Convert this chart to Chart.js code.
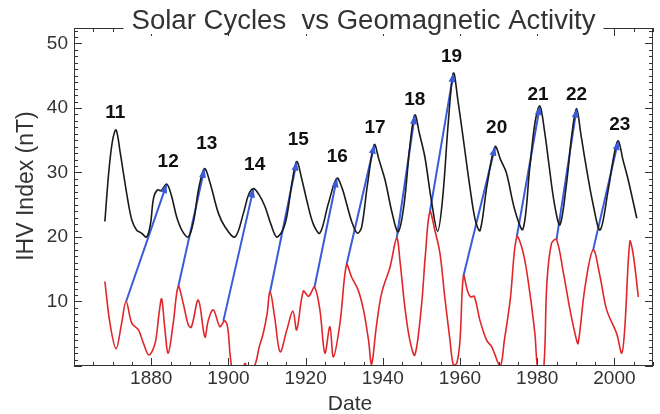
<!DOCTYPE html>
<html>
<head>
<meta charset="utf-8">
<script src="https://cdn.jsdelivr.net/npm/chart.js@4/dist/chart.umd.min.js"></script>
<style>
  html, body { margin: 0; padding: 0; background: #fff; }
  #wrap { width: 660px; height: 414px; }
</style>
</head>
<body>
<div id="wrap"><canvas id="myChart"></canvas></div>
<script>
// black curve: IHV index scaled sunspot cycles
const ihvYears = [1868.0, 1869.0, 1870.0, 1870.9, 1872.0, 1872.8, 1874.0, 1875.0, 1876.2, 1877.5, 1878.8, 1879.8, 1880.6, 1881.6, 1882.6, 1884.0, 1885.2, 1886.6, 1888.0, 1889.6, 1891.0, 1892.3, 1893.8, 1895.2, 1897.4, 1899.1, 1901.7, 1903.9, 1905.2, 1906.5, 1908.0, 1909.5, 1911.0, 1912.5, 1914.0, 1915.1, 1916.5, 1917.7, 1919.0, 1920.3, 1922.0, 1923.7, 1925.9, 1928.1, 1929.5, 1930.6, 1932.0, 1933.4, 1934.5, 1936.0, 1937.8, 1939.0, 1940.6, 1942.5, 1944.0, 1945.5, 1947.0, 1948.3, 1949.5, 1950.9, 1952.5, 1954.2, 1955.5, 1957.0, 1958.3, 1959.5, 1960.9, 1962.5, 1964.0, 1965.2, 1967.0, 1969.1, 1970.5, 1972.0, 1974.2, 1976.3, 1978.1, 1979.5, 1980.7, 1982.0, 1982.9, 1984.5, 1985.9, 1987.6, 1989.0, 1990.2, 1991.3, 1992.4, 1994.5, 1996.3, 1998.4, 2000.0, 2001.0, 2002.2, 2003.6, 2005.8];
const ihvValues = [22.4, 30.0, 35.0, 36.6, 33.0, 29.9, 25.5, 22.6, 21.1, 20.6, 20.0, 22.0, 26.0, 27.3, 27.2, 28.2, 26.5, 23.1, 21.0, 20.0, 22.5, 27.5, 30.6, 28.5, 23.7, 21.6, 20.0, 23.7, 26.5, 27.5, 26.5, 24.7, 22.0, 20.0, 21.0, 23.1, 28.5, 31.7, 29.0, 25.7, 22.0, 20.6, 25.2, 29.1, 27.5, 25.2, 22.3, 20.6, 21.5, 28.0, 34.3, 32.0, 28.8, 23.5, 20.8, 25.0, 34.0, 38.9, 36.0, 32.4, 26.0, 20.9, 26.0, 38.0, 45.4, 41.0, 35.0, 28.0, 22.5, 21.0, 28.0, 34.0, 32.0, 30.0, 24.2, 21.2, 30.9, 38.0, 40.3, 36.0, 31.9, 25.0, 21.9, 28.3, 36.0, 39.9, 36.0, 31.9, 25.0, 21.1, 27.3, 33.0, 34.9, 32.0, 28.8, 22.9];

// red curve: geomagnetic activity
const geoYears = [1868.0, 1869.3, 1870.9, 1872.3, 1873.5, 1875.0, 1876.7, 1878.0, 1879.4, 1881.0, 1882.0, 1882.7, 1883.5, 1884.4, 1885.7, 1887.0, 1888.3, 1889.6, 1890.4, 1892.2, 1893.9, 1894.8, 1896.1, 1897.8, 1899.0, 1899.8, 1900.4, 1900.8, 1901.5, 1903.0, 1904.3, 1905.3, 1906.9, 1908.0, 1909.0, 1910.0, 1910.8, 1912.0, 1913.4, 1915.1, 1916.7, 1917.7, 1919.4, 1920.8, 1922.3, 1923.7, 1925.0, 1926.3, 1927.2, 1928.9, 1930.6, 1931.9, 1933.6, 1935.0, 1936.3, 1937.1, 1938.3, 1939.7, 1941.9, 1943.6, 1944.5, 1945.7, 1947.0, 1948.3, 1950.0, 1951.0, 1952.2, 1953.5, 1954.8, 1956.0, 1957.4, 1958.3, 1959.2, 1960.0, 1960.9, 1962.0, 1962.8, 1963.7, 1965.2, 1966.9, 1968.2, 1970.4, 1971.5, 1973.0, 1974.7, 1976.4, 1978.1, 1979.4, 1980.3, 1981.6, 1982.5, 1983.7, 1985.0, 1986.8, 1988.5, 1990.0, 1990.6, 1992.4, 1994.5, 1996.3, 1998.0, 2000.6, 2001.9, 2002.7, 2004.0, 2004.9, 2006.2];
const geoValues = [13.1, 6.7, 2.7, 6.5, 10.0, 6.6, 5.6, 3.5, 1.7, 3.5, 8.0, 10.4, 6.0, 2.0, 6.6, 12.3, 9.7, 6.4, 6.0, 10.2, 4.5, 7.1, 8.7, 6.1, 7.0, 6.0, 2.0, 0.0, -2.0, -1.5, 0.4, -1.0, 0.2, 3.0, 5.0, 8.0, 11.5, 7.5, 2.2, 5.5, 8.5, 5.6, 11.6, 10.8, 12.2, 8.7, 2.0, 6.1, 1.4, 6.6, 15.7, 13.8, 11.8, 8.7, 4.0, 0.3, 6.0, 11.3, 15.4, 19.8, 16.0, 9.2, 4.0, 1.7, 9.2, 17.0, 23.9, 21.0, 17.5, 11.0, 4.0, 0.1, 0.5, 4.0, 14.0, 11.5, 10.7, 10.8, 7.0, 4.0, 3.0, 0.0, 4.0, 10.2, 20.0, 17.5, 11.3, 5.0, -1.0, -1.0, 12.8, 19.0, 19.6, 14.4, 8.7, 4.5, 3.5, 12.3, 18.0, 13.8, 8.7, 5.0, 2.0, 6.0, 19.3, 17.2, 10.7];

// blue arrows: from geomagnetic peak to following sunspot peak
const arrowFromYears = [1873.5, 1887.0, 1898.7, 1910.8, 1922.3, 1930.6, 1943.6, 1952.2, 1960.9, 1974.7, 1985.0, 1994.5];
const arrowFromValues = [10.0, 12.3, 7.0, 11.5, 12.2, 15.7, 19.8, 23.9, 14.0, 20.0, 19.6, 18.0];
const arrowToYears = [1884.0, 1893.8, 1906.5, 1917.7, 1928.1, 1937.8, 1948.3, 1958.3, 1969.1, 1980.7, 1990.2, 2001.0];
const arrowToValues = [28.2, 30.6, 27.5, 31.7, 29.1, 34.3, 38.9, 45.4, 34.0, 40.3, 39.9, 34.9];

// cycle numbers
const cycleNumbers = ['11', '12', '13', '14', '15', '16', '17', '18', '19', '20', '21', '22', '23'];
const cycleLabelYears = [1870.7, 1884.4, 1894.4, 1906.8, 1918.1, 1928.2, 1938.0, 1948.3, 1957.8, 1969.5, 1980.2, 1990.2, 2001.4];
const cycleLabelValues = [39.2, 31.6, 34.4, 31.2, 35.0, 32.4, 36.9, 41.2, 47.9, 36.9, 42.0, 42.0, 37.4];

const xTickLabels = [1880, 1900, 1920, 1940, 1960, 1980, 2000];
const yTickLabels = [10, 20, 30, 40, 50];

const FONT = "'Liberation Sans', Arial, sans-serif";
const TITLE = 'Solar Cycles  vs Geomagnetic Activity';

function pts(xs, ys) {
  return xs.map((x, i) => ({ x: x, y: ys[i] }));
}

const datasets = [
  { label: 'aa', data: pts(geoYears, geoValues), borderColor: '#e0262b', borderWidth: 1.6, pointRadius: 0, tension: 0.35 },
  { label: 'IHV', data: pts(ihvYears, ihvValues), borderColor: '#1a1a1a', borderWidth: 1.6, pointRadius: 0, tension: 0.35 }
];
arrowFromYears.forEach((y0, i) => {
  datasets.push({
    label: 'arrow' + i,
    data: [{ x: y0, y: arrowFromValues[i] }, { x: arrowToYears[i], y: arrowToValues[i] }],
    borderColor: '#3b5bd9', borderWidth: 2, pointRadius: 0, tension: 0
  });
});

const decorPlugin = {
  id: 'decor',
  afterDatasetsDraw(chart) {
    const { ctx, scales: { x, y } } = chart;
    ctx.save();
    // arrow heads
    ctx.fillStyle = '#3b5bd9';
    arrowFromYears.forEach((y0, i) => {
      const x0 = x.getPixelForValue(y0), yy0 = y.getPixelForValue(arrowFromValues[i]);
      const x1 = x.getPixelForValue(arrowToYears[i]), yy1 = y.getPixelForValue(arrowToValues[i]);
      const ang = Math.atan2(yy1 - yy0, x1 - x0);
      ctx.beginPath();
      ctx.moveTo(x1, yy1);
      ctx.lineTo(x1 - 9 * Math.cos(ang) + 3.5 * Math.sin(ang), yy1 - 9 * Math.sin(ang) - 3.5 * Math.cos(ang));
      ctx.lineTo(x1 - 9 * Math.cos(ang) - 3.5 * Math.sin(ang), yy1 - 9 * Math.sin(ang) + 3.5 * Math.cos(ang));
      ctx.closePath();
      ctx.fill();
    });
    // cycle numbers
    ctx.fillStyle = '#111';
    ctx.font = 'bold 19px ' + FONT;
    ctx.textAlign = 'center';
    ctx.textBaseline = 'middle';
    cycleNumbers.forEach((t, i) => {
      ctx.fillText(t, x.getPixelForValue(cycleLabelYears[i]), y.getPixelForValue(cycleLabelValues[i]));
    });
    ctx.restore();
  },
  afterDraw(chart) {
    const { ctx, chartArea: a, scales: { x, y } } = chart;
    ctx.save();
    ctx.strokeStyle = '#333';
    ctx.lineWidth = 1;
    ctx.strokeRect(a.left + 0.5, a.top + 0.5, a.right - a.left - 1, a.bottom - a.top - 1);
    ctx.beginPath();
    for (let v = 0; v <= y.max; v += 1) {
      const py = Math.round(y.getPixelForValue(v)) + 0.5;
      const len = v % 10 === 0 ? 8 : 4;
      ctx.moveTo(a.left, py); ctx.lineTo(a.left + len, py);
      ctx.moveTo(a.right, py); ctx.lineTo(a.right - len, py);
    }
    for (let v = 1860; v <= 2010; v += 5) {
      const px = Math.round(x.getPixelForValue(v)) + 0.5;
      const len = v % 20 === 0 ? 8 : 4;
      ctx.moveTo(px, a.bottom); ctx.lineTo(px, a.bottom - len);
      ctx.moveTo(px, a.top); ctx.lineTo(px, a.top + len);
    }
    ctx.stroke();

    // axis titles
    ctx.fillStyle = '#333';
    ctx.textAlign = 'center';
    ctx.textBaseline = 'middle';
    ctx.font = '21px ' + FONT;
    ctx.fillText('Date', 350, 404);
    ctx.save();
    ctx.translate(27, 186);
    ctx.rotate(-Math.PI / 2);
    ctx.font = '23px ' + FONT;
    ctx.fillText('IHV Index (nT)', 0, 0);
    ctx.restore();

    // title sitting on the top frame line
    ctx.font = '27px ' + FONT;
    const w = ctx.measureText(TITLE).width;
    const sx = 464 / w;
    const cx = (a.left + a.right) / 2;
    ctx.fillStyle = '#fff';
    ctx.fillRect(cx - 240, a.top - 22, 480, 28);
    ctx.fillStyle = '#333';
    ctx.textBaseline = 'alphabetic';
    ctx.translate(cx, 29);
    ctx.scale(sx, 1);
    ctx.fillText(TITLE, 0, 0);
    ctx.restore();
  }
};

new Chart(document.getElementById('myChart'), {
  type: 'line',
  data: { datasets: datasets },
  options: {
    responsive: true,
    maintainAspectRatio: false,
    animation: false,
    layout: { padding: { top: 28, right: 7, left: 0, bottom: 0 } },
    plugins: { legend: { display: false }, tooltip: { enabled: false }, title: { display: false } },
    scales: {
      x: {
        type: 'linear',
        min: 1860,
        max: 2010,
        grid: { display: false, drawTicks: false },
        border: { display: false },
        afterBuildTicks: (s) => { s.ticks = xTickLabels.map((v) => ({ value: v })); },
        ticks: {
          autoSkip: false,
          maxRotation: 0,
          padding: 1,
          color: '#333',
          font: { family: FONT, size: 19 },
          callback: (v) => String(v)
        },
        afterFit: (s) => { s.height = 48; }
      },
      y: {
        min: 0,
        max: 52.4,
        grid: { display: false, drawTicks: false },
        border: { display: false },
        afterBuildTicks: (s) => { s.ticks = yTickLabels.map((v) => ({ value: v })); },
        ticks: {
          padding: 6,
          color: '#333',
          font: { family: FONT, size: 19 },
          callback: (v) => String(v)
        },
        afterFit: (s) => { s.width = 74; }
      }
    }
  },
  plugins: [decorPlugin]
});
</script>
</body>
</html>
